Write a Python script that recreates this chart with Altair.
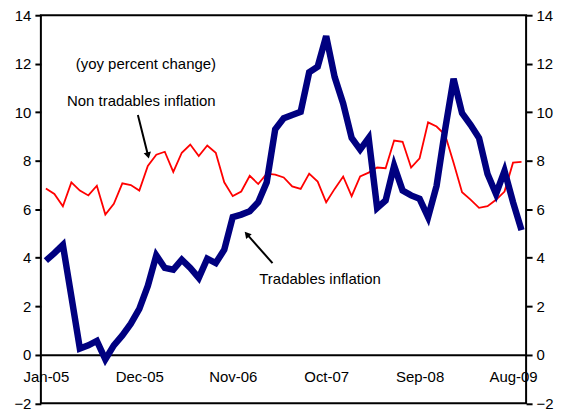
import altair as alt
import pandas as pd

# Monthly, Jan-05 .. Sep-09 (57 months)
tradables = [3.88, 4.19, 4.53, 2.40, 0.26, 0.39, 0.57, -0.19, 0.39, 0.80,
             1.28, 1.89, 2.84, 4.10, 3.58, 3.51, 3.92, 3.58, 3.17, 3.96,
             3.78, 4.33, 5.68, 5.78, 5.92, 6.29, 7.11, 9.30, 9.75, 9.89,
             10.02, 11.65, 11.88, 13.14, 11.45, 10.36, 8.94, 8.46, 8.94, 6.05,
             6.36, 7.79, 6.77, 6.57, 6.43, 5.68, 6.97, 9.28, 11.38, 9.96,
             9.48, 8.94, 7.45, 6.63, 7.58, 6.29, 5.14]
nontradables = [6.86, 6.63, 6.12, 7.11, 6.77, 6.57, 6.97, 5.78, 6.22, 7.07,
                7.00, 6.77, 7.79, 8.25, 8.37, 7.54, 8.33, 8.67, 8.19, 8.63,
                8.33, 7.11, 6.54, 6.73, 7.38, 7.04, 7.47, 7.43, 7.31, 6.94,
                6.84, 7.47, 7.14, 6.29, 6.84, 7.35, 6.54, 7.35, 7.51, 7.72,
                7.69, 8.83, 8.78, 7.72, 8.10, 9.58, 9.41, 9.07, 7.92, 6.70,
                6.40, 6.06, 6.13, 6.39, 6.73, 7.92, 7.95]
tick_positions = [0, 11, 22, 33, 44, 55]
tick_labels = ["Jan-05", "Dec-05", "Nov-06", "Oct-07", "Sep-08", "Aug-09"]
y_ticks = [-2, 0, 2, 4, 6, 8, 10, 12, 14]

# annotations (data coordinates: month index, percent)
ann_text = ["(yoy percent change)", "Non tradables inflation", "Tradables inflation"]
ann_x = [11.77, 11.23, 32.28]
ann_y = [11.77, 10.27, 2.92]
arrow_x = [10.83, 26.68]
arrow_y = [9.89, 3.78]
arrow_x2 = [12.0, 23.74]
arrow_y2 = [8.26, 4.94]
arrow_angle = [166, 319]

FONT = "Liberation Sans"
df = pd.DataFrame({"i": list(range(len(tradables))), "t": tradables, "n": nontradables})
ann = pd.DataFrame({"x": ann_x, "y": ann_y, "label": ann_text})
arr = pd.DataFrame({"x": arrow_x, "y": arrow_y, "x2": arrow_x2, "y2": arrow_y2, "angle": arrow_angle})

label_expr = "[" + ",".join(f"'{l}'" for l in tick_labels) + "][round(datum.value/11)]"

xscale = alt.Scale(domain=[-0.59, 56.54], nice=False, zero=False)
yscale = alt.Scale(domain=[-2, 14], nice=False, zero=False)

xaxis = alt.Axis(values=tick_positions, labelExpr=label_expr, offset=-48.7, ticks=False,
                 tickSize=0, grid=False, domainColor="black", domainWidth=2,
                 labelPadding=15, labelFont=FONT, labelFontSize=15, labelColor="black",
                 title=None, labelFlush=False)

def yaxis(orient):
    return alt.Axis(values=y_ticks, orient=orient, grid=False, domain=False,
                    tickColor="black", tickWidth=2, tickSize=6, labelPadding=4,
                    labelFont=FONT, labelFontSize=15, labelColor="black", title=None,
                    labelFlush=False)

red = alt.Chart(df).mark_line(color="#FF0000", strokeWidth=1.8).encode(
    x=alt.X("i:Q", scale=xscale, axis=xaxis),
    y=alt.Y("n:Q", scale=yscale, axis=yaxis("left")),
)
blue = alt.Chart(df).mark_line(color="#000080", strokeWidth=6.5, strokeJoin="miter").encode(
    x=alt.X("i:Q", scale=xscale),
    y=alt.Y("t:Q", scale=yscale, axis=yaxis("right")),
)
texts = alt.Chart(ann).mark_text(font=FONT, fontSize=15, color="black",
                                 baseline="alphabetic", align="center").encode(
    x=alt.X("x:Q", scale=xscale),
    y=alt.Y("y:Q", scale=yscale, axis=None),
    text="label:N",
)
shafts = alt.Chart(arr).mark_rule(color="black", strokeWidth=2).encode(
    x=alt.X("x:Q", scale=xscale),
    y=alt.Y("y:Q", scale=yscale, axis=None),
    x2="x2:Q",
    y2="y2:Q",
)
heads = alt.Chart(arr).mark_point(shape="triangle", filled=True, color="black",
                                  size=55, opacity=1).encode(
    x=alt.X("x2:Q", scale=xscale),
    y=alt.Y("y2:Q", scale=yscale, axis=None),
    angle=alt.Angle("angle:Q", scale=None),
)

chart = alt.layer(red, blue, shafts, heads, texts).resolve_scale(y="independent").properties(
    width=487, height=389.5,
    autosize=alt.AutoSizeParams(type="none"),
    padding={"left": 33, "top": 6.5, "right": 28, "bottom": 7},
    background="white",
).configure_view(stroke="black", strokeWidth=2)

chart.save("out.html", embed_options={"renderer": "svg", "actions": False})
